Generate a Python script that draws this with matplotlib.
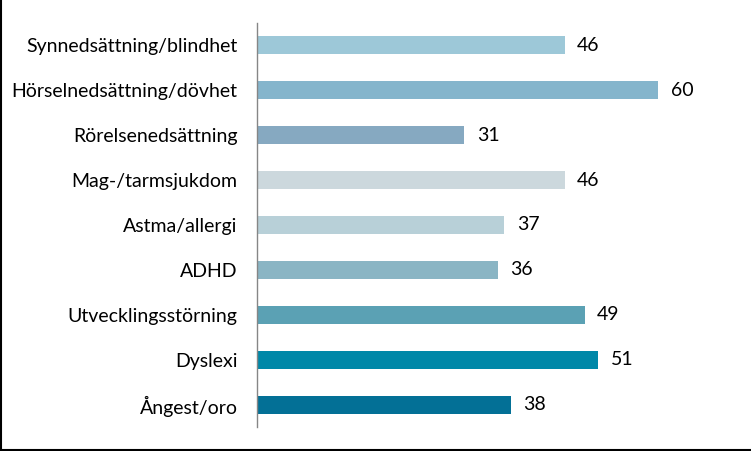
import matplotlib
matplotlib.use("Agg")
import matplotlib.pyplot as plt
from matplotlib.lines import Line2D

# Data
kategorier = ["Synnedsättning/blindhet", "Hörselnedsättning/dövhet", "Rörelsenedsättning",
              "Mag-/tarmsjukdom", "Astma/allergi", "ADHD", "Utvecklingsstörning",
              "Dyslexi", "Ångest/oro"]
varden = [46, 60, 31, 46, 37, 36, 49, 51, 38]
farger = ["#9DC8D8", "#85B5CC", "#86A9C1", "#CCD8DD", "#B8D0D8",
          "#8AB5C4", "#5BA1B4", "#0088A8", "#037096"]

plt.rcParams['font.family'] = ['Lato', 'DejaVu Sans']

fig = plt.figure(figsize=(7.51, 4.51), dpi=100)
ax = fig.add_axes([257 / 751, 24 / 451, 468 / 751, 404 / 451])

pos = list(range(len(kategorier)))
ax.barh(pos, varden, height=0.4, color=farger)
ax.set_xlim(0, 70)
ax.set_ylim(len(kategorier) - 0.5, -0.5)

ax.set_yticks(pos)
ax.set_yticklabels(kategorier, fontsize=14, color="#000000")
ax.tick_params(axis="y", length=0, pad=14)
ax.set_xticks([])

for s in ["top", "right", "bottom"]:
    ax.spines[s].set_visible(False)
ax.spines["left"].set_color("#868686")
ax.spines["left"].set_linewidth(1.0)

for p, v in zip(pos, varden):
    ax.annotate(str(v), (v, p), xytext=(9, 0), textcoords="offset points",
                va="center", ha="left", fontsize=14, color="#000000")

# Ram runt figuren (vänster och nederkant syns i originalet)
fig.add_artist(Line2D([0.5 / 751, 0.5 / 751], [0, 1], transform=fig.transFigure,
                      color="black", linewidth=1.5))
fig.add_artist(Line2D([0, 1], [1 / 451, 1 / 451], transform=fig.transFigure,
                      color="black", linewidth=1.5))

fig.savefig("out.png", dpi=100)
